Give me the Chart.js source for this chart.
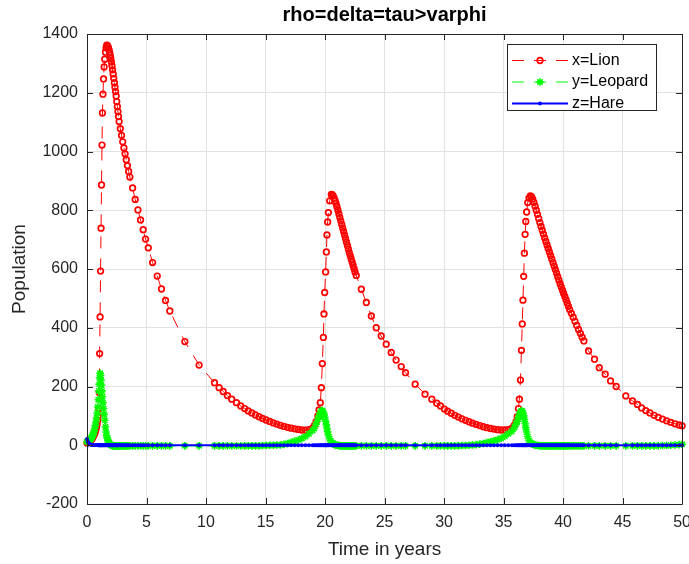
<!DOCTYPE html>
<html>
<head>
<meta charset="utf-8">
<title>rho=delta=tau>varphi</title>
<script src="https://cdn.jsdelivr.net/npm/chart.js@4/dist/chart.umd.min.js"></script>
<style>
  html, body { margin: 0; padding: 0; background: #fff; overflow: hidden; }
  canvas { display: block; }
</style>
</head>
<body>
<canvas id="popChart" width="700" height="564" style="width:700px;height:564px"></canvas>
<script>
// Solver time steps (shared by all three populations)
const years = [
  0, 0.05, 0.1, 0.15, 0.2, 0.25, 0.3, 0.35, 0.4, 0.45, 0.5, 0.55, 0.6, 0.65, 0.7, 0.75, 0.8, 0.85, 0.9, 0.95, 1.0,
  1.03, 1.06, 1.1, 1.14, 1.18, 1.22, 1.26, 1.3, 1.34, 1.39, 1.44, 1.49, 1.55, 1.6, 1.66,
  1.7, 1.75, 1.8, 1.85, 1.9, 1.95, 2.0, 2.05, 2.1, 2.15, 2.2, 2.25, 2.3, 2.35, 2.4, 2.45, 2.5, 2.55, 2.6, 2.65, 2.7,
  2.8, 2.9, 3.0, 3.1, 3.2, 3.3, 3.4, 3.5, 3.6,
  3.83, 4.05, 4.28, 4.5, 4.72, 4.92, 5.15, 5.51, 5.9, 6.26, 6.6, 6.96, 8.22, 9.42, 10.71, 11.1, 11.44, 11.8, 12.16, 12.56, 12.92, 13.25,
  13.55, 13.85, 14.15, 14.45, 14.75, 15.05, 15.35, 15.65, 15.95, 16.25, 16.55, 16.85, 17.15, 17.45, 17.75, 18.05, 18.35, 18.65, 18.95,
  19.1, 19.25, 19.4, 19.5, 19.6, 19.69, 19.77, 19.86, 19.91, 19.97, 20.05, 20.11, 20.16, 20.22, 20.28, 20.39, 20.53,
  20.6, 20.68, 20.76, 20.84, 20.92, 21.0, 21.08, 21.16, 21.24, 21.32, 21.4, 21.48, 21.56, 21.64, 21.72, 21.8, 21.88, 21.96, 22.04, 22.12, 22.2, 22.28, 22.36, 22.44, 22.52, 22.62,
  23.05, 23.47, 23.89, 24.3, 24.72, 25.14, 25.56, 25.97, 26.4, 26.76, 27.57, 28.4, 28.97, 29.39, 29.7, 30.03,
  30.3, 30.6, 30.9, 31.2, 31.5, 31.8, 32.1, 32.4, 32.7, 33.0, 33.3, 33.6, 33.9, 34.2, 34.5, 34.8, 35.1, 35.4,
  35.7, 35.9, 36.05, 36.15, 36.25, 36.33, 36.42, 36.5, 36.57, 36.63, 36.69, 36.75, 36.81, 36.87, 36.94, 37.03, 37.14, 37.25,
  37.35, 37.45, 37.55, 37.65, 37.75, 37.85, 37.95, 38.05, 38.15, 38.25, 38.35, 38.45, 38.55, 38.65, 38.75, 38.85, 38.95,
  39.05, 39.15, 39.25, 39.35, 39.45, 39.55, 39.65, 39.75, 39.85, 39.95, 40.05, 40.15, 40.25, 40.35, 40.45, 40.55,
  40.7, 40.85, 41.0, 41.15, 41.3, 41.45, 41.6, 41.75, 42.14, 42.64, 43.04, 43.54, 43.99, 44.46, 45.27, 45.83, 46.25, 46.6,
  46.95, 47.3, 47.65, 48.0, 48.35, 48.7, 49.05, 49.4, 49.75, 50
];

// x = Lion
const lion = [
  8, 9, 10, 11, 13, 15, 17, 19, 21, 24, 28, 32, 36, 41, 47, 54, 62, 72, 85, 100, 125,
  180, 312, 437, 593, 739, 886, 1022, 1131, 1195, 1247, 1288, 1314, 1338, 1353, 1362,
  1361, 1358, 1353, 1346, 1338, 1328, 1317, 1305, 1292, 1278, 1264, 1249, 1234, 1219, 1204, 1189, 1170, 1153, 1136, 1119, 1102,
  1078, 1055, 1033, 1012, 992, 972, 952, 932, 913,
  876, 837, 801, 767, 734, 702, 672, 622, 576, 532, 493, 457, 353, 273, 213, 196, 183, 169, 157, 145, 134, 125,
  117, 110, 103, 97, 91, 86, 81, 76, 72, 68, 64, 61, 58, 56, 54, 52, 51, 53, 58,
  67, 80, 100, 120, 145, 196, 278, 367, 447, 520, 590, 658, 716, 760, 792, 832, 854,
  853, 849, 842, 833, 823, 812, 800, 788, 776, 764, 752, 740, 728, 716, 704, 692, 680, 668, 656, 645, 634, 623, 612, 601, 590, 578,
  531, 486, 440, 400, 372, 344, 316, 290, 268, 247, 208, 174, 157, 143, 134, 123,
  116, 109, 102, 96, 90, 85, 80, 75, 71, 67, 63, 60, 57, 55, 53, 52, 52, 53,
  58, 68, 80, 97, 125, 157, 222, 323, 413, 494, 575, 654, 718, 762, 794, 826, 842, 849,
  846, 838, 827, 814, 800, 786, 772, 758, 745, 732, 719, 706, 694, 682, 670, 658, 646,
  634, 622, 610, 598, 586, 574, 562, 550, 539, 528, 517, 506, 495, 484, 473, 462,
  449, 436, 422, 408, 394, 381, 368, 355, 321, 293, 264, 242, 219, 200, 168, 151, 139, 127,
  118, 110, 102, 95, 89, 83, 78, 73, 69, 66
];

// y = Leopard
const leopard = [
  12, 13, 14, 15, 17, 19, 21, 24, 27, 31, 35, 41, 48, 57, 67, 79, 93, 110, 130, 155, 185,
  208, 230, 245, 238, 222, 205, 185, 165, 145, 125, 105, 85, 62, 45, 32,
  25, 18, 12, 8, 5, 3, 1, 0, -1, -1, -2, -2, -2, -2, -2, -2, -2, -2, -2, -2, -2,
  -2, -2, -2, -2, -2, -2, -2, -2, -2,
  -2, -2, -2, -2, -2, -2, -2, -2, -2, -2, -2, -2, -2, -2, -2, -2, -2, -2, -2, -2, -2, -2,
  -2, -2, -2, -2, -1, -1, 0, 0, 1, 1, 3, 6, 10, 14, 18, 23, 30, 39, 50,
  57, 72, 88, 100, 110, 117, 118, 112, 105, 95, 82, 70, 58, 46, 36, 22, 10,
  8, 5, 3, 2, 1, 0, -1, -1, -2, -2, -2, -2, -2, -2, -2, -2, -2, -2, -2, -2, -2, -2, -2, -2, -2, -2,
  -2, -2, -2, -2, -2, -2, -2, -2, -2, -2, -2, -2, -2, -2, -2, -2,
  -2, -2, -2, -2, -1, -1, 0, 1, 2, 4, 6, 9, 12, 15, 19, 24, 31, 39,
  48, 60, 72, 82, 95, 105, 113, 117, 116, 110, 100, 88, 74, 60, 45, 30, 16, 9,
  6, 4, 2, 1, 0, -1, -1, -2, -2, -2, -2, -2, -2, -2, -2, -2, -2,
  -2, -2, -2, -2, -2, -2, -2, -2, -2, -2, -2, -2, -2, -2, -2, -2,
  -2, -2, -2, -2, -2, -2, -2, -2, -2, -2, -2, -2, -2, -2, -2, -2, -2, -2,
  -2, -2, -2, -2, -1, -1, 0, 1, 2, 3
];

// z = Hare
const hare = [
  22, 15, 10, 7, 5, 3.5, 2.5, 1.8, 1.3, 1, 0.7, 0.5, 0.4, 0.3, 0.2, 0.2, 0.1, 0.1, 0.1, 0, 0,
  0, 0, 0, 0, 0, 0, 0, 0, 0, 0, 0, 0, 0, 0, 0,
  0, 0, 0, 0, 0, 0, 0, 0, 0, 0, 0, 0, 0, 0, 0, 0, 0, 0, 0, 0, 0,
  0, 0, 0, 0, 0, 0, 0, 0, 0,
  0, 0, 0, 0, 0, 0, 0, 0, 0, 0, 0, 0, 0, 0, 0, 0, 0, 0, 0, 0, 0, 0,
  0, 0, 0, 0, 0, 0, 0, 0, 0, 0, 0, 0, 0, 0, 0, 0, 0, 0, 0,
  0, 0, 0, 0, 0, 0, 0, 0, 0, 0, 0, 0, 0, 0, 0, 0, 0,
  0, 0, 0, 0, 0, 0, 0, 0, 0, 0, 0, 0, 0, 0, 0, 0, 0, 0, 0, 0, 0, 0, 0, 0, 0, 0,
  0, 0, 0, 0, 0, 0, 0, 0, 0, 0, 0, 0, 0, 0, 0, 0,
  0, 0, 0, 0, 0, 0, 0, 0, 0, 0, 0, 0, 0, 0, 0, 0, 0, 0,
  0, 0, 0, 0, 0, 0, 0, 0, 0, 0, 0, 0, 0, 0, 0, 0, 0, 0,
  0, 0, 0, 0, 0, 0, 0, 0, 0, 0, 0, 0, 0, 0, 0, 0, 0,
  0, 0, 0, 0, 0, 0, 0, 0, 0, 0, 0, 0, 0, 0, 0, 0,
  0, 0, 0, 0, 0, 0, 0, 0, 0, 0, 0, 0, 0, 0, 0, 0, 0, 0,
  0, 0, 0, 0, 0, 0, 0, 0, 0, 0
];

const seriesLabels = ['x=Lion', 'y=Leopard', 'z=Hare'];
const chartTitle = 'rho=delta=tau>varphi';
const xTitle = 'Time in years';
const yTitle = 'Population';

const FONT = "'Liberation Sans', Arial, Helvetica, sans-serif";
const AXIS_COLOR = '#262626';

if (lion.length !== years.length || leopard.length !== years.length || hare.length !== years.length) {
  console.warn('length mismatch', years.length, lion.length, leopard.length, hare.length);
}

const toPoints = vals => years.map((t, i) => ({ x: t, y: vals[i] }));

// small marker painter used by the legend box
function drawMarker(ctx, ds, x, y) {
  ctx.save();
  ctx.strokeStyle = ds.pointBorderColor;
  ctx.fillStyle = ds.pointBackgroundColor;
  ctx.lineWidth = ds.pointBorderWidth || 1;
  ctx.beginPath();
  if (ds.pointStyle === 'star') {
    const r = ds.pointRadius;
    for (let k = 0; k < 4; k++) {
      const a = k * Math.PI / 4;
      ctx.moveTo(x - r * Math.cos(a), y - r * Math.sin(a));
      ctx.lineTo(x + r * Math.cos(a), y + r * Math.sin(a));
    }
    ctx.stroke();
  } else {
    ctx.arc(x, y, ds.pointRadius, 0, Math.PI * 2);
    ctx.fill();
    if (ds.pointBorderWidth) ctx.stroke();
  }
  ctx.restore();
}

// MATLAB style box: frame on all four sides with inward ticks
const axesBox = {
  id: 'axesBox',
  afterDatasetsDraw(chart) {
    const { ctx, chartArea: a, scales: { x, y } } = chart;
    const len = 6;
    ctx.save();
    ctx.strokeStyle = AXIS_COLOR;
    ctx.lineWidth = 1;
    ctx.beginPath();
    ctx.rect(Math.round(a.left) + 0.5, Math.round(a.top) + 0.5, Math.round(a.right - a.left), Math.round(a.bottom - a.top));
    x.ticks.forEach(t => {
      const px = Math.round(x.getPixelForValue(t.value)) + 0.5;
      ctx.moveTo(px, a.bottom); ctx.lineTo(px, a.bottom - len);
      ctx.moveTo(px, a.top); ctx.lineTo(px, a.top + len);
    });
    y.ticks.forEach(t => {
      const py = Math.round(y.getPixelForValue(t.value)) + 0.5;
      ctx.moveTo(a.left, py); ctx.lineTo(a.left + len, py);
      ctx.moveTo(a.right, py); ctx.lineTo(a.right - len, py);
    });
    ctx.stroke();
    ctx.restore();
  }
};

// legend box in the upper right corner, line + marker + text
const boxLegend = {
  id: 'boxLegend',
  afterDraw(chart) {
    const { ctx, chartArea: a } = chart;
    const w = 149, h = 66;
    const left = Math.round(a.right - 26 - w), top = Math.round(a.top + 10);
    ctx.save();
    ctx.fillStyle = '#ffffff';
    ctx.fillRect(left, top, w, h);
    ctx.strokeStyle = AXIS_COLOR;
    ctx.lineWidth = 1;
    ctx.strokeRect(left + 0.5, top + 0.5, w, h);
    chart.data.datasets.forEach((ds, i) => {
      const yy = top + 16.5 + i * 21.5;
      ctx.strokeStyle = ds.borderColor;
      ctx.lineWidth = ds.borderWidth;
      ctx.setLineDash(ds.borderDash || []);
      ctx.beginPath();
      ctx.moveTo(left + 5, yy);
      ctx.lineTo(left + 61, yy);
      ctx.stroke();
      ctx.setLineDash([]);
      drawMarker(ctx, ds, left + 33, yy);
      ctx.fillStyle = '#000000';
      ctx.font = '16px ' + FONT;
      ctx.textBaseline = 'middle';
      ctx.textAlign = 'left';
      ctx.fillText(ds.label, left + 65, yy);
    });
    ctx.restore();
  }
};

new Chart(document.getElementById('popChart'), {
  type: 'line',
  data: {
    datasets: [
      {
        label: seriesLabels[0],
        data: toPoints(lion),
        borderColor: '#ff0000',
        borderWidth: 1,
        borderDash: [12, 10],
        pointStyle: 'circle',
        pointRadius: 2.8,
        pointBorderWidth: 1.7,
        pointBorderColor: '#ff0000',
        pointBackgroundColor: 'rgba(255,255,255,0)',
        order: 3,
        clip: 5
      },
      {
        label: seriesLabels[1],
        data: toPoints(leopard),
        borderColor: '#00ff00',
        borderWidth: 1,
        borderDash: [12, 10],
        pointStyle: 'star',
        pointRadius: 3.8,
        pointBorderWidth: 1.6,
        pointBorderColor: '#00ff00',
        pointBackgroundColor: '#00ff00',
        order: 2,
        clip: 5
      },
      {
        label: seriesLabels[2],
        data: toPoints(hare),
        borderColor: '#0000ff',
        borderWidth: 2,
        pointStyle: 'circle',
        pointRadius: 1.9,
        pointBorderWidth: 0,
        pointBorderColor: '#0000ff',
        pointBackgroundColor: '#0000ff',
        order: 1,
        clip: 5
      }
    ]
  },
  options: {
    responsive: false,
    devicePixelRatio: 1,
    animation: false,
    layout: { padding: { left: 0, right: 17, top: 0, bottom: 0 } },
    elements: { line: { tension: 0 } },
    scales: {
      x: {
        type: 'linear',
        min: 0,
        max: 50,
        afterFit: s => { s.height = 60; },
        ticks: {
          stepSize: 5,
          padding: 9,
          color: AXIS_COLOR,
          font: { family: FONT, size: 16 },
          callback: v => String(v)
        },
        grid: { color: '#e2e2e2', drawTicks: false },
        border: { display: false },
        title: {
          display: true,
          text: xTitle,
          color: AXIS_COLOR,
          font: { family: FONT, size: 19 },
          padding: { top: 0, bottom: 3 }
        }
      },
      y: {
        min: -200,
        max: 1400,
        afterFit: s => { s.width = 87; },
        ticks: {
          stepSize: 200,
          padding: 9,
          color: AXIS_COLOR,
          font: { family: FONT, size: 16 },
          callback: v => String(v)
        },
        grid: { color: '#e2e2e2', drawTicks: false },
        border: { display: false },
        title: {
          display: true,
          text: yTitle,
          color: AXIS_COLOR,
          font: { family: FONT, size: 19 },
          padding: { top: 8, bottom: 0 }
        }
      }
    },
    plugins: {
      legend: { display: false },
      tooltip: { enabled: false },
      title: {
        display: true,
        fullSize: false,
        text: chartTitle,
        color: '#000000',
        font: { family: FONT, size: 20, weight: 'bold' },
        padding: { top: 3, bottom: 7 }
      }
    }
  },
  plugins: [axesBox, boxLegend]
});
</script>
</body>
</html>
